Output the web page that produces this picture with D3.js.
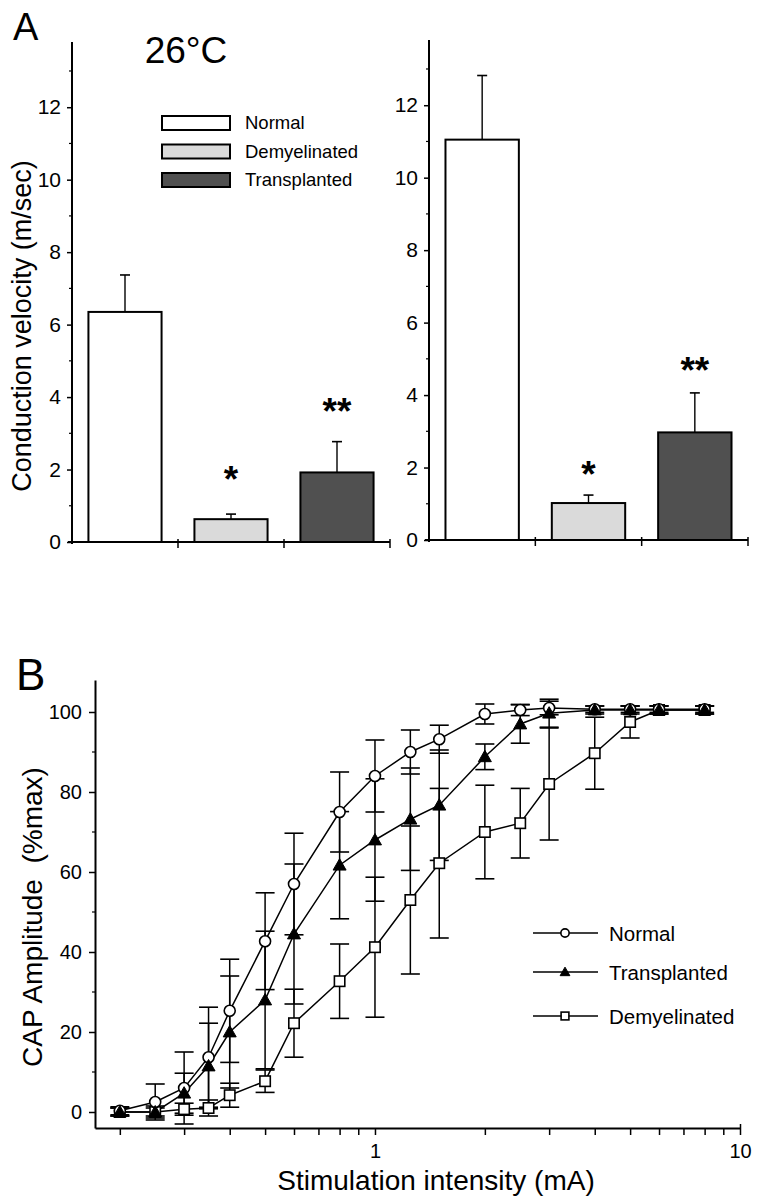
<!DOCTYPE html>
<html><head><meta charset="utf-8">
<script src="https://cdn.jsdelivr.net/npm/d3@7"></script>
<style>
body{margin:0;background:#fff}
svg{display:block}
text{font-family:"Liberation Sans",Arial,Helvetica,sans-serif;fill:#000}
</style>
</head><body>
<svg id="chart" width="762" height="1199"></svg>
<script>
// ---------------- DATA ----------------
// Panel A: conduction velocity (m/sec)
const groups = ["Normal", "Demyelinated", "Transplanted"];
const cvLeft = [6.35, 0.63, 1.92];
const cvLeftErr = [1.02, 0.14, 0.85];
const cvRight = [11.05, 1.02, 2.97];
const cvRightErr = [1.77, 0.22, 1.09];
const starLabels = ["", "*", "**"];
const starLeftAt = [null, 1.95, 3.85];
const starRightAt = [null, 2.05, 4.9];
const cvTicks = [0, 2, 4, 6, 8, 10, 12];
const cvMinorTicks = [1, 3, 5, 7, 9, 11, 13];

// Panel B: CAP amplitude (%max) vs stimulation intensity (mA)
const intensity = [0.2, 0.25, 0.3, 0.35, 0.4, 0.5, 0.6, 0.8, 1, 1.25, 1.5, 2, 2.5, 3, 4, 5, 6, 8];
const capNormal = [0.3, 2.5, 6, 13.7, 25.3, 42.7, 57, 75, 84, 90, 93.2, 99.5, 100.5, 101, 100.7, 100.7, 100.7, 100.7];
const capNormalErr = [1, 4.5, 9, 12.5, 12.9, 12.1, 12.7, 10, 9, 5.5, 3.5, 2.5, 1.4, 1.7, 0.8, 0.8, 0.8, 0.8];
const capTransplanted = [0, 0, 4.7, 11.5, 20, 28, 44.5, 61.7, 68, 73.2, 76.7, 88.8, 97, 99.7, 100.5, 100.5, 100.5, 100.5];
const capTransplantedErr = [1, 1.5, 5, 10.7, 14, 17.2, 17.5, 13.4, 15.3, 12.8, 13.8, 3.2, 4.8, 3.5, 1, 1, 1, 1];
const capDemyelinated = [0, 0, 0.7, 1, 4.2, 7.7, 22.2, 32.7, 41.2, 53, 62.2, 70, 72.2, 82, 89.7, 97.5, 100.5, 100.5];
const capDemyelinatedErr = [1, 1, 1.5, 2, 3, 2.8, 8.5, 9.3, 17.5, 18.5, 18.7, 11.7, 8.7, 14, 9, 4, 1, 1];
const capTicks = [0, 20, 40, 60, 80, 100];
const capMinorTicks = [10, 30, 50, 70, 90];
const intensityTicks = [0.2, 0.3, 0.4, 0.5, 0.6, 0.7, 0.8, 0.9, 1, 2, 3, 4, 5, 6, 7, 8, 9, 10];
const intensityLabels = [1, 10];
const seriesNames = ["Normal", "Transplanted", "Demyelinated"];

// ---------------- STYLE ----------------
const barFill = {"Normal": "#ffffff", "Demyelinated": "#dadada", "Transplanted": "#505050"};
const svg = d3.select("#chart");

// ---------------- PANEL A ----------------
function barPanel(x0, x1, y0, means, errs, starsAt) {
  const g = svg.append("g");
  const y = d3.scaleLinear().domain([0, 13.8]).range([y0, y0 - 500]);
  const x = d3.scaleBand().domain(groups).range([x0, x1]).paddingInner(0.31).paddingOuter(0.155);
  const step = x.step();

  const ya = g.append("g").attr("transform", `translate(${x0},0)`)
    .call(d3.axisLeft(y).tickValues(cvTicks).tickSize(5).tickPadding(6).tickSizeOuter(0));
  ya.select(".domain").attr("stroke-width", 2).attr("d", `M0,${y0 + 2}V${y.range()[1]}`);
  ya.selectAll(".tick line").attr("stroke-width", 1.5);
  ya.selectAll(".tick text").attr("font-size", 21).attr("font-family", "Liberation Sans, Arial, sans-serif");
  g.selectAll(".minor").data(cvMinorTicks).join("line")
    .attr("x1", x0 - 3).attr("x2", x0).attr("y1", d => y(d)).attr("y2", d => y(d))
    .attr("stroke", "#000").attr("stroke-width", 1.2);

  g.append("line").attr("x1", x0 - 4).attr("x2", x1).attr("y1", y0).attr("y2", y0)
    .attr("stroke", "#000").attr("stroke-width", 2);
  groups.forEach((c, i) => {
    const bx = x(c) - step * 0.155 + step;
    g.append("line").attr("x1", bx).attr("x2", bx).attr("y1", y0 - 3).attr("y2", y0 + 6)
      .attr("stroke", "#000").attr("stroke-width", 1.5);
  });

  groups.forEach((c, i) => {
    const cx = x(c) + x.bandwidth() / 2;
    g.append("line").attr("x1", cx).attr("x2", cx).attr("y1", y(means[i])).attr("y2", y(means[i] + errs[i]))
      .attr("stroke", "#000").attr("stroke-width", 1.4);
    g.append("line").attr("x1", cx - 5).attr("x2", cx + 5).attr("y1", y(means[i] + errs[i])).attr("y2", y(means[i] + errs[i]))
      .attr("stroke", "#000").attr("stroke-width", 1.6);
  });
  g.selectAll(".bar").data(groups).join("rect")
    .attr("x", d => x(d)).attr("width", x.bandwidth())
    .attr("y", (d, i) => y(means[i])).attr("height", (d, i) => y(0) - y(means[i]))
    .attr("fill", d => barFill[d]).attr("stroke", "#000").attr("stroke-width", 2);
  groups.forEach((c, i) => {
    if (!starLabels[i]) return;
    g.append("text").attr("x", x(c) + x.bandwidth() / 2).attr("y", y(starsAt[i]) + 21)
      .attr("text-anchor", "middle").attr("font-size", 37).attr("font-weight", "bold").text(starLabels[i]);
  });
  return {x, y};
}

barPanel(72, 390, 542, cvLeft, cvLeftErr, starLeftAt);
barPanel(429, 748, 540, cvRight, cvRightErr, starRightAt);

svg.append("text").attr("x", 13).attr("y", 40).attr("font-size", 38).text("A");
svg.append("text").attr("x", 186).attr("y", 63).attr("text-anchor", "middle").attr("font-size", 37).text("26°C");
svg.append("text").attr("transform", "translate(31,326) rotate(-90)").attr("text-anchor", "middle")
  .attr("font-size", 27).text("Conduction velocity (m/sec)");

groups.forEach((c, i) => {
  const ly = 116 + i * 28.5;
  svg.append("rect").attr("x", 162).attr("y", ly).attr("width", 68).attr("height", 14)
    .attr("fill", barFill[c]).attr("stroke", "#000").attr("stroke-width", 2);
  svg.append("text").attr("x", 245).attr("y", ly + 13).attr("font-size", 18.5).text(c);
});

// ---------------- PANEL B ----------------
const xB = d3.scaleLog().domain([0.171, 10]).range([95, 740]);
const yB = d3.scaleLinear().domain([-4, 108]).range([1128, 680]);
const gB = svg.append("g");

const xa = gB.append("g").attr("transform", "translate(0,1128)")
  .call(d3.axisBottom(xB).tickValues(intensityTicks)
    .tickFormat(d => intensityLabels.includes(d) ? String(d) : "").tickSize(7).tickPadding(9).tickSizeOuter(0));
xa.select(".domain").attr("stroke-width", 2);
xa.selectAll(".tick line").attr("stroke-width", 1.5);
xa.selectAll(".tick text").attr("font-size", 20).attr("font-family", "Liberation Sans, Arial, sans-serif");
xa.selectAll(".tick").filter(d => d === 10).select("line").attr("y1", -4);

const yaB = gB.append("g").attr("transform", "translate(95,0)")
  .call(d3.axisLeft(yB).tickValues(capTicks).tickSize(6).tickPadding(7).tickSizeOuter(0));
yaB.select(".domain").attr("stroke-width", 2);
yaB.selectAll(".tick line").attr("stroke-width", 1.5);
yaB.selectAll(".tick text").attr("font-size", 20).attr("font-family", "Liberation Sans, Arial, sans-serif");
gB.selectAll(".yminor").data(capMinorTicks).join("line")
  .attr("x1", 92).attr("x2", 95).attr("y1", d => yB(d)).attr("y2", d => yB(d))
  .attr("stroke", "#000").attr("stroke-width", 1.2);

svg.append("text").attr("x", 16).attr("y", 690).attr("font-size", 44).text("B");
svg.append("text").attr("transform", "translate(42,917) rotate(-90)").attr("text-anchor", "middle")
  .attr("font-size", 28).style("white-space", "pre").text("CAP Amplitude  (%max)");
svg.append("text").attr("x", 436).attr("y", 1190).attr("text-anchor", "middle")
  .attr("font-size", 28).text("Stimulation intensity (mA)");

const series = [
  {name: "Normal", vals: capNormal, errs: capNormalErr, shape: "circle"},
  {name: "Transplanted", vals: capTransplanted, errs: capTransplantedErr, shape: "triangle"},
  {name: "Demyelinated", vals: capDemyelinated, errs: capDemyelinatedErr, shape: "square"}
];
const line = d3.line().x(d => xB(d[0])).y(d => yB(d[1]));

function marker(sel, shape, cx, cy, s) {
  if (shape === "circle") {
    sel.append("circle").attr("cx", cx).attr("cy", cy).attr("r", 5.5 * s)
      .attr("fill", "#fff").attr("stroke", "#000").attr("stroke-width", 1.6);
  } else if (shape === "square") {
    const h = 5.2 * s;
    sel.append("rect").attr("x", cx - h).attr("y", cy - h).attr("width", 2 * h).attr("height", 2 * h)
      .attr("fill", "#fff").attr("stroke", "#000").attr("stroke-width", 1.6);
  } else {
    const h = 6.5 * s;
    sel.append("path").attr("d", `M${cx},${cy - h}L${cx + h},${cy + h * 0.75}L${cx - h},${cy + h * 0.75}Z`)
      .attr("fill", "#000").attr("stroke", "#000").attr("stroke-width", 1);
  }
}

series.forEach(s => {
  gB.append("path").datum(intensity.map((x, i) => [x, s.vals[i]]))
    .attr("d", line).attr("fill", "none").attr("stroke", "#000").attr("stroke-width", 1.5);
});
series.forEach(s => {
  intensity.forEach((x, i) => {
    const cx = xB(x), top = yB(s.vals[i] + s.errs[i]), bot = yB(s.vals[i] - s.errs[i]);
    gB.append("line").attr("x1", cx).attr("x2", cx).attr("y1", top).attr("y2", bot)
      .attr("stroke", "#000").attr("stroke-width", 1.5);
    [top, bot].forEach(yy => gB.append("line").attr("x1", cx - 9.5).attr("x2", cx + 9.5)
      .attr("y1", yy).attr("y2", yy).attr("stroke", "#000").attr("stroke-width", 1.6));
  });
});
// markers: squares first, then circles, triangles on top
[series[2], series[0], series[1]].forEach(s => {
  intensity.forEach((x, i) => marker(gB, s.shape, xB(x), yB(s.vals[i]), 1));
});

const legY = [933, 972, 1016];
series.forEach((s, i) => {
  const ly = legY[i];
  svg.append("line").attr("x1", 533).attr("x2", 598).attr("y1", ly).attr("y2", ly)
    .attr("stroke", "#000").attr("stroke-width", 1.4);
  marker(svg, s.shape, 565, ly, 0.75);
  svg.append("text").attr("x", 609).attr("y", ly + 7.5).attr("font-size", 20.5).text(s.name);
});
</script>
</body></html>
